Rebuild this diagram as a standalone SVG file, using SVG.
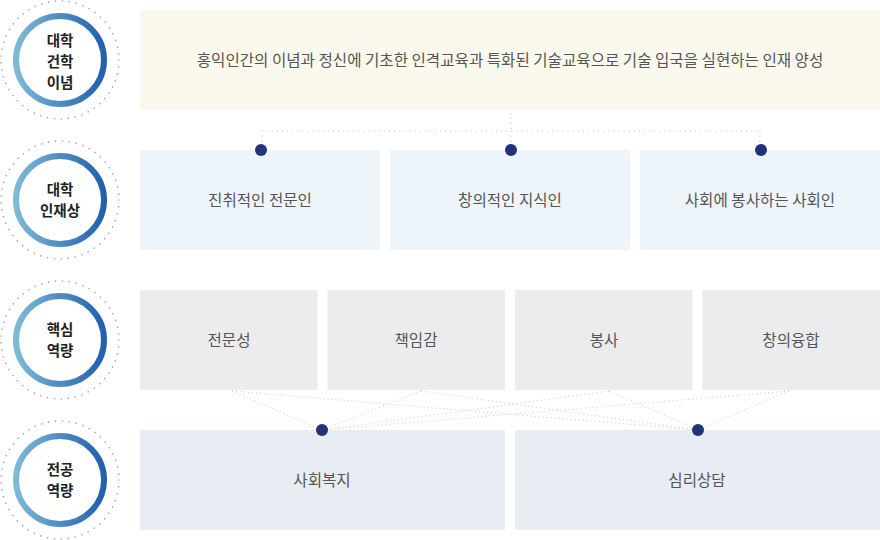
<svg xmlns="http://www.w3.org/2000/svg" width="880" height="540" viewBox="0 0 880 540">
<defs>
<linearGradient id="ring" x1="0" y1="0" x2="1" y2="0">
<stop offset="0" stop-color="#7db9d8"/>
<stop offset="1" stop-color="#2160ad"/>
</linearGradient>
<style>
.outer{fill:none;stroke:#a8a8a8;stroke-width:1.6;stroke-dasharray:0.1 6.9;stroke-linecap:round}
.ring{fill:#fff;stroke:url(#ring);stroke-width:6}
.lbl{font-family:"Noto Sans CJK KR","Noto Sans",sans-serif;font-size:14.5px;font-weight:bold;fill:#222;text-anchor:middle}
.txt{font-family:"Noto Sans CJK KR","Noto Sans",sans-serif;font-size:15.6px;fill:#555;text-anchor:middle}
.b1{fill:#fbf9ed}
.b2{fill:#edf5fb}
.b3{fill:#ececee}
.b4{fill:#e8ecf3}
.dot{fill:#22337a}
.con{fill:none;stroke:#bdbdbd;stroke-width:1.2;stroke-dasharray:0.1 5;stroke-linecap:round}
.cx{fill:none;stroke:#c8c8c8;stroke-width:1;stroke-dasharray:1 3}
</style>
</defs>
<rect width="880" height="540" fill="#fff"/>

<g id="label-1">
<circle class="outer" cx="60" cy="60" r="59"/>
<circle class="ring" cx="60" cy="60" r="44"/>
<text class="lbl" x="60" y="45.5">대학</text>
<text class="lbl" x="60" y="66.5">건학</text>
<text class="lbl" x="60" y="87.5">이념</text>
</g>
<g id="label-2">
<circle class="outer" cx="60" cy="200" r="59"/>
<circle class="ring" cx="60" cy="200" r="44"/>
<text class="lbl" x="60" y="194.5">대학</text>
<text class="lbl" x="60" y="215.5">인재상</text>
</g>
<g id="label-3">
<circle class="outer" cx="60" cy="340" r="59"/>
<circle class="ring" cx="60" cy="340" r="44"/>
<text class="lbl" x="60" y="334.5">핵심</text>
<text class="lbl" x="60" y="355.5">역량</text>
</g>
<g id="label-4">
<circle class="outer" cx="60" cy="480" r="59"/>
<circle class="ring" cx="60" cy="480" r="44"/>
<text class="lbl" x="60" y="474.5">전공</text>
<text class="lbl" x="60" y="495.5">역량</text>
</g>

<g id="mission">
<rect class="b1" x="140" y="10" width="740" height="100"/>
<text class="txt" x="510" y="65.5">홍익인간의 이념과 정신에 기초한 인격교육과 특화된 기술교육으로 기술 입국을 실현하는 인재 양성</text>
</g>

<g id="ideal-1"><rect class="b2" x="140" y="150" width="240" height="100"/><text class="txt" x="260" y="205.5">진취적인 전문인</text></g>
<g id="ideal-2"><rect class="b2" x="390" y="150" width="240" height="100"/><text class="txt" x="510" y="205.5">창의적인 지식인</text></g>
<g id="ideal-3"><rect class="b2" x="640" y="150" width="240" height="100"/><text class="txt" x="760" y="205.5">사회에 봉사하는 사회인</text></g>

<g id="core-1"><rect class="b3" x="140" y="290" width="177.5" height="100"/><text class="txt" x="229" y="345.5">전문성</text></g>
<g id="core-2"><rect class="b3" x="327.5" y="290" width="177.5" height="100"/><text class="txt" x="416" y="345.5">책임감</text></g>
<g id="core-3"><rect class="b3" x="515" y="290" width="177.5" height="100"/><text class="txt" x="604" y="345.5">봉사</text></g>
<g id="core-4"><rect class="b3" x="702.5" y="290" width="177.5" height="100"/><text class="txt" x="791" y="345.5">창의융합</text></g>

<g id="major-1"><rect class="b4" x="140" y="430" width="365" height="100"/><text class="txt" x="322" y="485.5">사회복지</text></g>
<g id="major-2"><rect class="b4" x="515" y="430" width="365" height="100"/><text class="txt" x="697" y="485.5">심리상담</text></g>

<g id="connectors">
<path class="con" d="M511 113V131M262 131H760M262 131V144M511 131V144M760 131V144"/>
<path class="cx" d="M232 391L322 430M232 391L698 430M421 391L322 430M421 391L698 430M609 391L322 430M609 391L698 430M789 391L322 430M789 391L698 430"/>
<circle class="dot" cx="261" cy="150" r="6"/>
<circle class="dot" cx="511" cy="150" r="6"/>
<circle class="dot" cx="761" cy="150" r="6"/>
<circle class="dot" cx="322" cy="430" r="6"/>
<circle class="dot" cx="698" cy="430" r="6"/>
</g>
</svg>
